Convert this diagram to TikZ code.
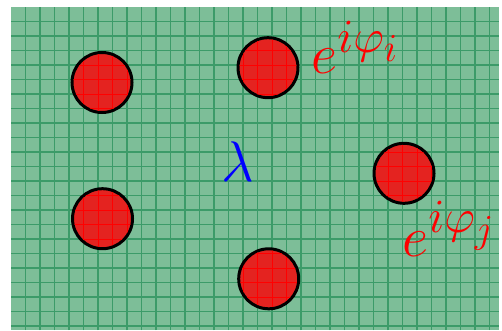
\documentclass[tikz,border=0pt]{standalone}
\usepackage{xcolor}
\usepackage{tikz}
\usepackage{amsmath}
\usetikzlibrary{positioning}
\definecolor{paper}{HTML}{7DBE98}
\definecolor{gridgreen}{HTML}{3C9B69}
\definecolor{sitered}{HTML}{E42320}

\begin{document}
\begin{tikzpicture}[x=1pt, y=1pt, font=\Huge]
  \tikzset{
    site/.style={circle, draw=black, fill=sitered, line width=3pt, minimum size=60pt, inner sep=0pt},
    phase/.style={text=red, scale=2.3, inner sep=0pt, anchor=base west}
  }
  \useasboundingbox (0,0) rectangle (502,330);

  % Hintergrund mit Gitter
  \fill[paper] (11,0) rectangle (499,323);
  \foreach \k in {1,...,33}
    \draw[gridgreen, line width=1.1pt] (11+14.5*\k,0) -- ++(0,323);
  \foreach \k in {1,...,22}
    \draw[gridgreen, line width=1.1pt] (11,323-14.5*\k) -- ++(488,0);

  % Gitterplaetze
  \node[site] (s1) at (102,247.5) {};
  \node[site] (s2) at (268,262.3) {};
  \node[site] (s3) at (404,156.7) {};
  \node[site] (s4) at (102.5,111.3) {};
  \node[site] (s5) at (268.7,51.2) {};

  % Gitter in den Kreisen rot
  \begin{scope}
    \clip (s1) circle (28.5) (s2) circle (28.5) (s3) circle (28.5)
          (s4) circle (28.5) (s5) circle (28.5);
    \foreach \k in {1,...,33}
      \draw[red, line width=1pt] (11+14.5*\k,0) -- ++(0,323);
    \foreach \k in {1,...,22}
      \draw[red, line width=1pt] (11,323-14.5*\k) -- ++(488,0);
  \end{scope}

  % Beschriftungen
  \node[text=blue, scale=2.3, inner sep=0pt] (lam) at (237.5,168) {$\lambda$};
  \node[phase] (phii) at (311,257) {$e^{i\varphi_i}$};
  \node[phase] (phij) at (402,73.5) {$e^{i\varphi_j}$};
\end{tikzpicture}
\end{document}
